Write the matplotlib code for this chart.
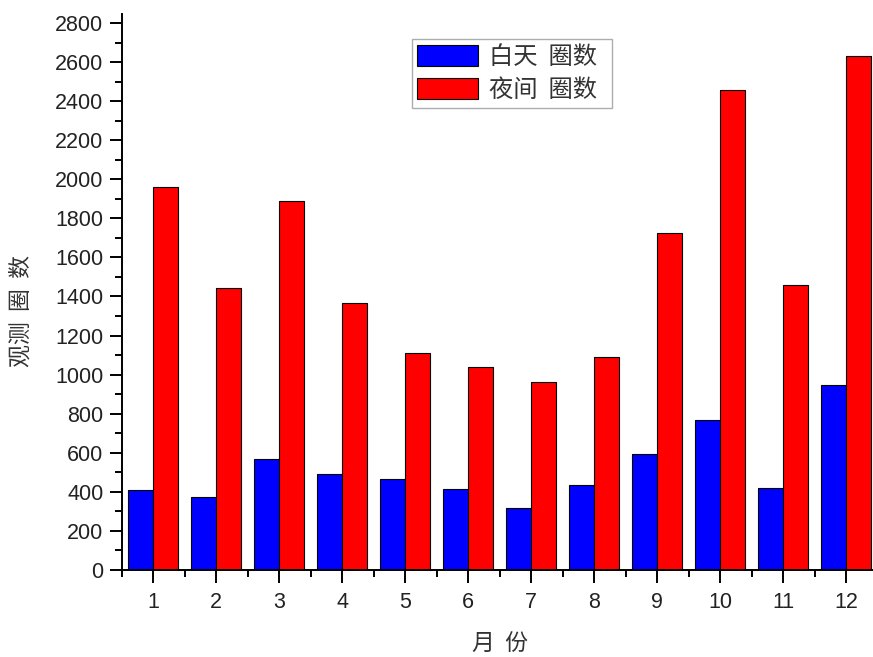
import numpy as np
import matplotlib
matplotlib.use('Agg')
import matplotlib.pyplot as plt
from matplotlib.ticker import MultipleLocator

plt.rcParams['font.family'] = ['Liberation Sans', 'Noto Sans CJK SC', 'DejaVu Sans']

# 各月观测圈数
months = np.arange(1, 13)
day_laps = [410, 375, 568, 490, 468, 414, 318, 436, 593, 770, 421, 945]
night_laps = [1960, 1441, 1888, 1366, 1109, 1037, 961, 1088, 1727, 2458, 1458, 2632]
labels = ['白天  圈数  ', '夜间  圈数  ']

fig = plt.figure(figsize=(8.73, 6.57), dpi=100)
ax = fig.add_axes([0.1392, 0.1324, 0.866, 0.846])

w = 0.4
ax.bar(months - w / 2, day_laps, w, color='#0000ff', edgecolor='black', linewidth=0.8, label=labels[0])
ax.bar(months + w / 2, night_laps, w, color='#ff0000', edgecolor='black', linewidth=0.8, label=labels[1])

ax.set_xlim(0.5, 12.5)
ax.set_ylim(0, 2845)
ax.set_xticks(months)
ax.xaxis.set_minor_locator(MultipleLocator(0.5))
ax.yaxis.set_major_locator(MultipleLocator(200))
ax.yaxis.set_minor_locator(MultipleLocator(100))

for s in ['top', 'right']:
    ax.spines[s].set_visible(False)
for s in ['left', 'bottom']:
    ax.spines[s].set_linewidth(1.4)

ax.tick_params(which='major', direction='out', length=9, width=1.4, labelsize=15.5, pad=4, labelcolor='#222222')
ax.tick_params(which='minor', direction='out', length=5, width=1.4)
ax.tick_params(axis='x', which='major', pad=7)

ax.set_ylabel('观测  圈  数', fontsize=16.5, family=['Noto Sans CJK SC'], color='#333333')
ax.yaxis.set_label_coords(-0.117, 0.466)
ax.set_xlabel('月  份', fontsize=16.5, family=['Noto Sans CJK SC'], labelpad=14, color='#333333')

leg = ax.legend(loc='upper left', bbox_to_anchor=(412 / 873, 1 - 39 / 657), bbox_transform=fig.transFigure,
                prop={'family': 'Noto Sans CJK SC', 'size': 17.5}, frameon=True, fancybox=False,
                handlelength=2.5, handleheight=0.95, borderpad=0.2, labelspacing=0.3, handletextpad=0.45,
                borderaxespad=0)
leg.get_frame().set_edgecolor('#999999')
leg.get_frame().set_linewidth(1.0)
for t in leg.get_texts():
    t.set_color('#333333')

fig.savefig('out.png', dpi=100)
